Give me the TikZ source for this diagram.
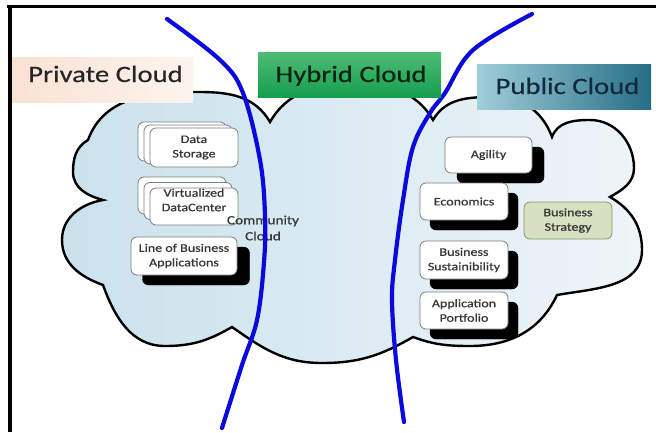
\documentclass[tikz,border=0pt]{standalone}
\usepackage{fontspec}
\setmainfont{Carlito}[FakeStretch=1.22]
\newfontfamily\heavyfam{Carlito}[FakeStretch=1.22, FakeBold=0.7]
\newfontfamily\headfam{Carlito}[FakeStretch=1.22, FakeBold=0.4]
\definecolor{txtgray}{RGB}{55,55,55}
\definecolor{boxgray}{RGB}{125,125,125}
\definecolor{cloudL}{RGB}{202,225,236}
\definecolor{cloudR}{RGB}{238,245,249}
\definecolor{linkblue}{RGB}{10,10,220}
\definecolor{oliveF}{RGB}{215,224,192}
\definecolor{oliveD}{RGB}{138,150,108}
\definecolor{peachL}{RGB}{250,226,211}
\definecolor{peachR}{RGB}{253,244,238}
\definecolor{greenT}{RGB}{78,188,118}
\definecolor{greenB}{RGB}{22,158,78}
\definecolor{tealL}{RGB}{160,206,218}
\definecolor{tealR}{RGB}{38,110,134}
\begin{document}
\begin{tikzpicture}[x=1pt,y=1pt,
  boxfont/.style={font=\heavyfam\fontsize{11.5}{14.5}\selectfont},
  wbox/.style={boxfont, draw=boxgray, line width=0.8pt, fill=white,
    rounded corners=6pt, minimum width=88pt, minimum height=37pt,
    inner sep=1pt, align=center, text=txtgray},
  shadowbox/.style={fill=black, draw=black, rounded corners=6pt,
    minimum width=88pt, minimum height=37pt, inner sep=0pt},
  boxtext/.style={boxfont, align=center, text=txtgray, inner sep=0pt},
  labbox/.style={minimum height=45pt, inner sep=0pt},
  labtext/.style={font=\headfam\fontsize{23.5}{26}\selectfont, anchor=base, inner sep=0pt},
  divider/.style={draw=linkblue, line width=4.2pt, line cap=round}
]
\useasboundingbox (0,0) rectangle (656,-432);
\fill[white] (0,0) rectangle (656,-432);

% frame edges
\coordinate (ftl) at (7,-6.5);
\coordinate (ftr) at (656,-6.5);
\coordinate (flt) at (10,-5);
\coordinate (flb) at (10,-432);
\draw[line width=3pt] (ftl) -- (ftr);
\draw[line width=4.5pt] (flt) -- (flb);

% the cloud
\draw[line width=2.4pt, left color=cloudL, right color=cloudR]
  (270,-122) to[out=60,in=180] (352,-84) to[out=0,in=120] (433,-120)
  to[out=60,in=180] (495,-97) to[out=0,in=110] (552,-137)
  to[out=70,in=180] (590,-120) to[out=0,in=90] (634,-168) to[out=-90,in=30] (610,-197)
  to[out=-30,in=90] (642,-250) to[out=-90,in=10] (557,-295)
  to[out=-115,in=0] (470,-346) to[out=180,in=-20] (413,-337)
  to[out=-150,in=0] (322,-363) to[out=180,in=-35] (232,-327)
  to[out=-150,in=0] (165,-346) to[out=180,in=-70] (103,-285)
  to[out=160,in=-90] (62,-240) to[out=90,in=190] (103,-200)
  to[out=165,in=-90] (73,-172) to[out=90,in=210] (88,-140)
  to[out=70,in=180] (200,-92) to[out=0,in=120] (270,-122) -- cycle;

% private side
\node[wbox, minimum height=39pt] (ds3) at (182,-141.5) {};
\node[wbox, minimum height=39pt] (ds2) at (188,-144.5) {};
\node[wbox, minimum height=39pt] (ds1) at (194,-147.5) {Data\\Storage};

\node[wbox] (vd3) at (182,-195.5) {};
\node[wbox] (vd2) at (188,-201) {};
\node[wbox] (vd1) at (194,-206.5) {};
\node[boxtext] (vdt) at (194,-200) {Virtualized\\DataCenter};

\node[shadowbox, minimum width=107pt, minimum height=38pt] (lobs) at (196,-266) {};
\node[wbox, minimum width=106pt, minimum height=38pt] (lob) at (184,-256) {Line of Business\\Applications};

% public side
\node[shadowbox, minimum width=87pt, minimum height=36pt] (agis) at (500.5,-165) {};
\node[wbox, minimum width=87pt, minimum height=36pt] (agi) at (488.5,-155) {Agility};

\node[shadowbox] (ecos) at (474,-211.5) {};
\node[wbox] (eco) at (464,-201.5) {Economics};

\node[wbox, fill=oliveF, draw=oliveD] (strat) at (568,-220.5) {Business\\Strategy};

\node[shadowbox, minimum height=38pt] (suss) at (474,-270) {};
\node[wbox, minimum height=38pt] (sus) at (464,-260) {Business\\Sustainibility};

\node[shadowbox] (apps) at (474,-320.5) {};
\node[wbox] (app) at (464,-310.5) {Application\\Portfolio};

% community label
\node[boxtext, font=\heavyfam\fontsize{12.5}{16}\selectfont] (comm) at (263,-228) {Community\\Cloud};

% dividing curves
\draw[divider] plot[smooth, tension=0.6] coordinates {(167,-19) (220,-60) (243,-93) (260,-160) (265,-215) (264,-262) (257,-320) (242,-365) (222,-428)};
\draw[divider] plot[smooth, tension=0.6] coordinates {(532,-14) (473,-50) (445,-93) (430,-113) (413,-147) (403,-200) (395,-260) (392,-300) (396,-360) (404,-422)};

% headings
\node[labbox, minimum width=181pt, left color=peachL, right color=peachR] (privbox) at (102.5,-80) {};
\node[labtext, text={rgb,255:red,38;green,38;blue,38}] (privt) at (105.5,-82) {Private Cloud};

\node[labbox, minimum width=183pt, top color=greenT, bottom color=greenB] (hybbox) at (349.5,-74.5) {};
\node[labtext, text={rgb,255:red,12;green,36;blue,20}] (hybt) at (351,-82) {Hybrid Cloud};

\node[labbox, minimum width=174pt, left color=tealL, right color=tealR] (pubbox) at (564,-86.5) {};
\node[labtext, text={rgb,255:red,18;green,40;blue,60}] (pubt) at (567.5,-94) {Public Cloud};
\end{tikzpicture}
\end{document}
